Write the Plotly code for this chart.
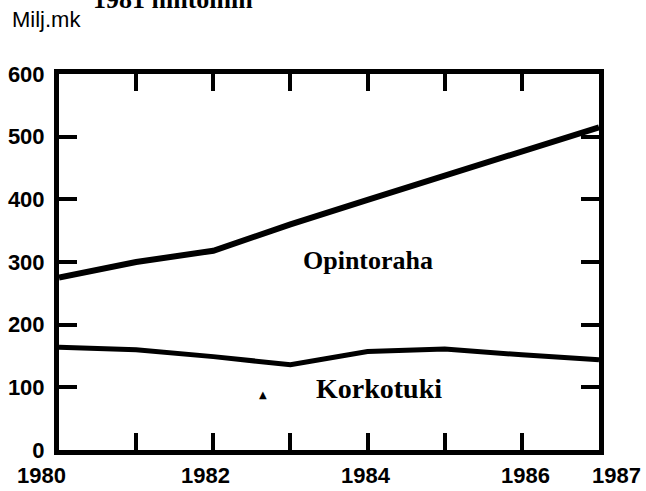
import plotly.graph_objects as go

years = [1980, 1981, 1982, 1983, 1984, 1985, 1986, 1987]
opintoraha = [275, 300, 318, 360, 399, 438, 477, 515]
korkotuki = [164, 160, 149, 136, 157, 161, 152, 144]

x_tick_years = [1981, 1982, 1983, 1984, 1985, 1986]
x_label_vals = [1980, 1982, 1984, 1986, 1987]
x_label_text = ["1980", "1982", "1984", "1986", "1987"]
x_label_shift = [-18, -8, -2, 4, 17]
y_tick_vals = [0, 100, 200, 300, 400, 500, 600]

fig = go.Figure()
fig.add_trace(go.Scatter(x=years, y=opintoraha, mode="lines",
                         line=dict(color="black", width=6), name="Opintoraha"))
fig.add_trace(go.Scatter(x=years, y=korkotuki, mode="lines",
                         line=dict(color="black", width=5), name="Korkotuki"))

ann = []
for v, t, s in zip(x_label_vals, x_label_text, x_label_shift):
    ann.append(dict(x=v, y=0, xref="x", yref="paper", yanchor="top", yshift=-11,
                    xshift=s, text=t, showarrow=False,
                    font=dict(family="Liberation Sans", size=22, color="black", weight="bold")))
ann.append(dict(x=0, y=1, xref="paper", yref="paper", xanchor="left", yanchor="bottom",
                xshift=-49, yshift=40, text="Milj.mk", showarrow=False,
                font=dict(family="Liberation Sans", size=22, color="black")))
ann.append(dict(x=0, y=1, xref="paper", yref="paper", xanchor="left", yanchor="bottom",
                xshift=32, yshift=58, text="1981 hintoihin", showarrow=False,
                font=dict(family="Liberation Serif", size=26, color="black", weight="bold")))
ann.append(dict(x=1984.0, y=303, xref="x", yref="y", text="Opintoraha", showarrow=False,
                font=dict(family="Liberation Serif", size=26, color="black", weight="bold")))
ann.append(dict(x=1984.15, y=98, xref="x", yref="y", text="Korkotuki", showarrow=False,
                font=dict(family="Liberation Serif", size=28, color="black", weight="bold")))
ann.append(dict(x=1982.65, y=88, xref="x", yref="y", text="▲", showarrow=False,
                font=dict(family="DejaVu Sans", size=10, color="black")))

fig.update_layout(
    width=646, height=491,
    margin=dict(l=59, r=47, t=74, b=41),
    paper_bgcolor="white", plot_bgcolor="white",
    showlegend=False,
    annotations=ann,
    xaxis=dict(range=[1980, 1987], tickvals=x_tick_years, showticklabels=False,
               ticks="inside", ticklen=17, tickwidth=4, tickcolor="black",
               showline=True, linewidth=5, linecolor="black", mirror="ticks",
               showgrid=False, zeroline=False, automargin=False),
    yaxis=dict(range=[0, 600], tickvals=y_tick_vals, ticks="inside", ticklen=18,
               tickwidth=4, tickcolor="black", ticklabelstandoff=5,
               showline=True, linewidth=5, linecolor="black", mirror="ticks",
               showgrid=False, zeroline=False, automargin=False,
               tickfont=dict(family="Liberation Sans", size=22, color="black", weight="bold")),
)
fig.write_html("out.html", config={"displayModeBar": False},
               post_script="document.body.style.margin='0px';")
